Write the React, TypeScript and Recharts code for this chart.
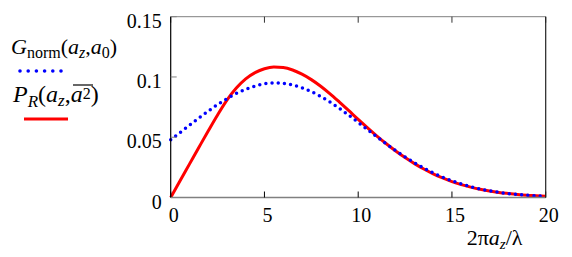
import { LineChart, Line, XAxis, YAxis, Legend } from 'recharts'

// values at steps of 0.5 along 2πa_z/λ
const xValues = [
  0, 0.5, 1, 1.5, 2, 2.5, 3, 3.5, 4, 4.5, 5, 5.5, 6, 6.5, 7, 7.5, 8, 8.5, 9, 9.5, 10,
  10.5, 11, 11.5, 12, 12.5, 13, 13.5, 14, 14.5, 15, 15.5, 16, 16.5, 17, 17.5, 18, 18.5, 19, 19.5, 20,
]
const gNorm = [
  0.048, 0.0539, 0.0599, 0.0659, 0.0716, 0.0771, 0.082, 0.0863, 0.0898, 0.0925, 0.0943,
  0.095, 0.0947, 0.0933, 0.091, 0.0878, 0.0838, 0.0791, 0.0739, 0.0682, 0.0623,
  0.0563, 0.0503, 0.0445, 0.0389, 0.0337, 0.0288, 0.0244, 0.0204, 0.0169, 0.0139,
  0.0112, 0.009, 0.0071, 0.0056, 0.0043, 0.0033, 0.0025, 0.0019, 0.0014, 0.001,
]
const pR = [
  0, 0.0139, 0.0277, 0.0415, 0.0552, 0.0685, 0.0808, 0.0908, 0.0984, 0.1036, 0.1068,
  0.1082, 0.1078, 0.1058, 0.1023, 0.0978, 0.0923, 0.086, 0.0791, 0.072, 0.0648,
  0.0578, 0.051, 0.0446, 0.0386, 0.0331, 0.0281, 0.0236, 0.0196, 0.0162, 0.0132,
  0.0107, 0.0086, 0.0069, 0.0054, 0.0042, 0.0033, 0.0025, 0.0019, 0.0015, 0.0011,
]
const xTicks = [0, 5, 10, 15, 20]
const yTicks = [0, 0.05, 0.1, 0.15]

const data = xValues.map((x, i) => ({ x, g: gNorm[i], p: pR[i] }))

const serif = "'Liberation Serif', 'DejaVu Serif', 'Noto Serif', 'Times New Roman', serif"
const BLUE = '#0000ff'
const RED = '#ff0000'
const GRAY = '#808080'

const tickFont = { fontSize: 20, fontFamily: serif, fill: '#000' }

function XTitle(props: any) {
  const { viewBox } = props
  return (
    <text x={viewBox.x + 296} y={viewBox.y + 47.5} style={{ fontFamily: serif, fontSize: 22 }} fill="#000">
      <tspan>2π</tspan>
      <tspan fontStyle="italic">a</tspan>
      <tspan fontStyle="italic" fontSize={15} dy={4}>z</tspan>
      <tspan dy={-4}>/λ</tspan>
    </text>
  )
}

function LegendBox() {
  return (
    <svg width={170} height={140} style={{ display: 'block', fontFamily: serif }}>
      <text x={11} y={54} style={{ fontFamily: serif, fontSize: 22 }} fill="#000">
        <tspan fontStyle="italic">G</tspan>
        <tspan fontSize={16} dy={4}>norm</tspan>
        <tspan dy={-4}>(</tspan>
        <tspan fontStyle="italic">a</tspan>
        <tspan fontStyle="italic" fontSize={16} dy={4}>z</tspan>
        <tspan dy={-4}>,</tspan>
        <tspan fontStyle="italic">a</tspan>
        <tspan fontSize={16} dy={4}>0</tspan>
        <tspan dy={-4}>)</tspan>
      </text>
      <line x1={20} y1={71} x2={61} y2={71} stroke={BLUE} strokeWidth={3.6}
        strokeDasharray="0 8.2" strokeLinecap="round" />
      <text x={13} y={101.5} style={{ fontFamily: serif, fontSize: 24 }} fill="#000">
        <tspan fontStyle="italic">P</tspan>
        <tspan fontStyle="italic" fontSize={17} dy={5}>R</tspan>
        <tspan dy={-5}>(</tspan>
        <tspan fontStyle="italic">a</tspan>
        <tspan fontStyle="italic" fontSize={17} dy={4}>z</tspan>
        <tspan dy={-4}>,</tspan>
        <tspan fontStyle="italic">a</tspan>
        <tspan fontSize={16} dy={-3}>2</tspan>
        <tspan dy={3}>)</tspan>
      </text>
      {/* bar over a² */}
      <line x1={73} y1={85} x2={93} y2={85} stroke="#000" strokeWidth={1.2} />
      <line x1={24} y1={119} x2={68} y2={119} stroke={RED} strokeWidth={3} />
    </svg>
  )
}

export default function App() {
  return (
    <div style={{ position: 'absolute', left: 0, top: 0 }}>
      <LineChart
        width={572}
        height={257}
        data={data}
        margin={{ top: 15.7, right: 25.3, bottom: 0, left: 0 }}
      >
        <XAxis
          dataKey="x"
          type="number"
          domain={[0, 20]}
          ticks={xTicks}
          height={59.5}
          tickSize={-6}
          tickMargin={16.5}
          axisLine={{ stroke: GRAY, strokeWidth: 1.5 }}
          tickLine={{ stroke: '#000' }}
          tick={{ ...tickFont, dx: 3 }}
          label={{ content: XTitle }}
        />
        <XAxis
          xAxisId="top"
          orientation="top"
          dataKey="x"
          type="number"
          domain={[0, 20]}
          ticks={xTicks}
          height={1}
          tickSize={-6}
          tickFormatter={() => ''}
          axisLine={{ stroke: GRAY }}
          tickLine={{ stroke: '#333' }}
        />
        <YAxis
          type="number"
          domain={[0, 0.15]}
          ticks={yTicks}
          width={170.7}
          tickSize={-6}
          tickMargin={15}
          axisLine={{ stroke: '#000', strokeWidth: 1.2 }}
          tickLine={{ stroke: GRAY }}
          tick={{ ...tickFont, dy: 4 }}
        />
        <YAxis
          yAxisId="right"
          orientation="right"
          type="number"
          domain={[0, 0.15]}
          ticks={yTicks}
          width={1}
          tickSize={-6}
          tickFormatter={() => ''}
          axisLine={{ stroke: '#222', strokeWidth: 1.2 }}
          tickLine={{ stroke: GRAY }}
        />
        <Legend
          layout="horizontal"
          verticalAlign="middle"
          align="center"
          wrapperStyle={{ left: 0, top: 0, width: 170, height: 140 }}
          content={LegendBox}
        />
        <Line
          dataKey="p"
          name="P_R"
          type="monotone"
          stroke={RED}
          strokeWidth={3}
          dot={false}
          isAnimationActive={false}
        />
        <Line
          dataKey="g"
          name="G_norm"
          type="monotone"
          stroke={BLUE}
          strokeWidth={3.5}
          strokeDasharray="0 6.2"
          strokeLinecap="round"
          dot={false}
          isAnimationActive={false}
        />
      </LineChart>
    </div>
  )
}
